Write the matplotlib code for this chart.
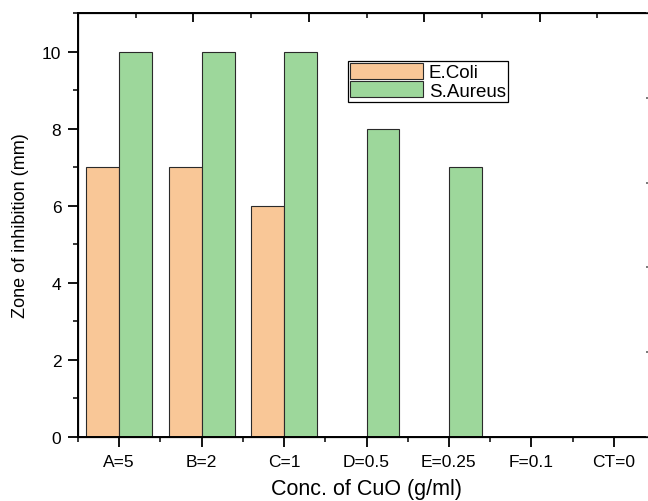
import numpy as np
from matplotlib import pyplot as plt
from matplotlib.ticker import MultipleLocator

plt.rcParams['font.family'] = ['Liberation Sans', 'DejaVu Sans']

categories = ["A=5", "B=2", "C=1", "D=0.5", "E=0.25", "F=0.1", "CT=0"]
ecoli = [7, 7, 6, 0, 0, 0, 0]
saureus = [10, 10, 10, 8, 7, 0, 0]

x = np.arange(len(categories))
w = 0.4

fig = plt.figure(figsize=(6.48, 5.02), dpi=100)
# axes runs a little past the right edge of the picture, like the original
ax = fig.add_axes([78/648, 1 - 438/502, 577/648, 424/502])

ax.bar(x - w/2, ecoli, w, color="#f9c797", edgecolor="#2a2a2a", linewidth=0.8, label="E.Coli")
ax.bar(x + w/2, saureus, w, color="#9dd79b", edgecolor="#2a2a2a", linewidth=0.8, label="S.Aureus")

ax.set_xlim(-0.5, 6.5)
ax.set_ylim(0, 11)
ax.set_xticks(x)
ax.set_xticklabels(categories)
ax.xaxis.set_minor_locator(MultipleLocator(1, offset=0.5))
ax.yaxis.set_major_locator(MultipleLocator(2))
ax.yaxis.set_minor_locator(MultipleLocator(1))
ax.tick_params(which="major", direction="out", length=7, width=1.3, labelsize=12.5, pad=5)
ax.tick_params(which="minor", direction="out", length=3.5, width=1.1)
for s in ax.spines.values():
    s.set_linewidth(1.4)

ax.set_xlabel("Conc. of CuO (g/ml)", fontsize=15.5, labelpad=7)
ax.set_ylabel("Zone of inhibition (mm)", fontsize=13, labelpad=9)

# top and right axes with their own inward ticks
top = ax.twiny()
top.set_xlim(0, 1)
top.xaxis.set_major_locator(MultipleLocator(0.2))
top.xaxis.set_minor_locator(MultipleLocator(0.1))
top.tick_params(which="major", direction="in", length=6.5, width=1.3, labeltop=False)
top.tick_params(which="minor", direction="in", length=3.5, width=1.1)
right = ax.twinx()
right.set_ylim(0, 1)
right.yaxis.set_major_locator(MultipleLocator(0.2))
right.yaxis.set_minor_locator(MultipleLocator(0.1))
right.tick_params(which="major", direction="in", length=6.5, width=1.1, color="#555555", labelright=False)
right.tick_params(which="minor", direction="in", length=5, width=0.8, color="#cccccc")

leg = ax.legend(loc="upper left", bbox_to_anchor=(0.468, 0.887), fontsize=13.5,
                fancybox=False, framealpha=1, edgecolor="black", borderpad=0.1,
                handlelength=3.9, handleheight=0.95, handletextpad=0.3,
                labelspacing=0.0, borderaxespad=0)
leg.get_frame().set_linewidth(0.9)

fig.savefig("out.png", dpi=100)
